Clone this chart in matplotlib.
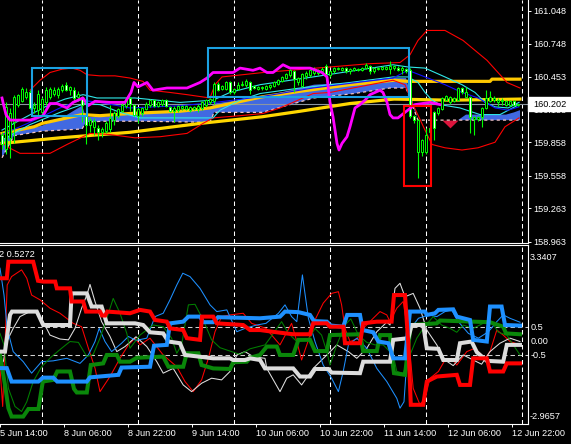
"""
H1 price chart with overlays (MAs, bands, cloud, zones) and a
four-line strength oscillator underneath. Saved to out.png
"""
import numpy as np
import matplotlib
matplotlib.use("Agg")
import matplotlib.pyplot as plt
from matplotlib.patches import Rectangle
from matplotlib.transforms import blended_transform_factory as blend

plt.rcParams['font.family'] = ['Liberation Sans', 'DejaVu Sans']

# ---- H1 bars, index 0..129
OPEN = [159.93, 159.80, 159.90, 160.04, 160.20, 160.23, 160.27, 160.31, 160.17, 160.15,
        160.13, 160.22, 160.27, 160.30, 160.29, 160.33, 160.38, 160.33, 160.33, 160.27,
        160.27, 160.11, 160.02, 160.00, 159.99, 159.95, 159.96, 159.98, 160.06, 160.10,
        160.14, 160.19, 160.26, 160.20, 160.10, 160.12, 160.16, 160.20, 160.24, 160.19,
        160.21, 160.24, 160.18, 160.14, 160.15, 160.17, 160.16, 160.15, 160.16, 160.16,
        160.17, 160.20, 160.22, 160.23, 160.39, 160.34, 160.34, 160.40, 160.31, 160.34,
        160.38, 160.38, 160.40, 160.37, 160.34, 160.35, 160.34, 160.36, 160.37, 160.39,
        160.41, 160.44, 160.47, 160.50, 160.40, 160.37, 160.46, 160.47, 160.49, 160.49,
        160.50, 160.55, 160.47, 160.50, 160.52, 160.51, 160.53, 160.50, 160.51, 160.51,
        160.51, 160.53, 160.55, 160.50, 160.52, 160.52, 160.52, 160.52, 160.53, 160.53,
        160.51, 160.52, 160.51, 160.10, 159.77, 159.77, 159.77, 159.95, 160.13, 160.12,
        160.16, 160.24, 160.22, 160.23, 160.24, 160.35, 160.27, 160.27, 160.07, 160.07,
        160.09, 160.17, 160.23, 160.24, 160.22, 160.23, 160.20, 160.20, 160.23, 160.20]
HIGH = [159.95, 160.22, 160.17, 160.29, 160.30, 160.36, 160.35, 160.33, 160.22, 160.33,
        160.27, 160.36, 160.36, 160.36, 160.36, 160.39, 160.40, 160.37, 160.36, 160.32,
        160.28, 160.13, 160.08, 160.08, 160.02, 160.00, 160.05, 160.20, 160.14, 160.17,
        160.22, 160.26, 160.27, 160.21, 160.18, 160.18, 160.22, 160.25, 160.25, 160.23,
        160.25, 160.25, 160.19, 160.19, 160.20, 160.20, 160.20, 160.19, 160.19, 160.21,
        160.23, 160.25, 160.26, 160.40, 160.40, 160.38, 160.41, 160.41, 160.35, 160.40,
        160.41, 160.43, 160.41, 160.38, 160.37, 160.37, 160.38, 160.39, 160.41, 160.43,
        160.46, 160.49, 160.52, 160.51, 160.45, 160.49, 160.50, 160.52, 160.54, 160.52,
        160.54, 160.57, 160.51, 160.54, 160.54, 160.54, 160.54, 160.53, 160.54, 160.53,
        160.54, 160.58, 160.56, 160.54, 160.54, 160.55, 160.55, 160.59, 160.56, 160.55,
        160.55, 160.53, 160.53, 160.11, 160.07, 159.89, 159.99, 160.00, 160.14, 160.18,
        160.27, 160.29, 160.28, 160.27, 160.36, 160.36, 160.36, 160.28, 160.10, 160.10,
        160.18, 160.33, 160.32, 160.28, 160.26, 160.26, 160.24, 160.24, 160.24, 160.21]
LOW = [159.80, 159.75, 159.72, 159.85, 160.18, 160.22, 160.25, 160.16, 160.12, 160.10,
       160.10, 160.20, 160.25, 160.28, 160.26, 160.31, 160.32, 160.29, 160.23, 160.23,
       160.04, 159.84, 159.95, 159.93, 159.88, 159.91, 159.94, 159.95, 160.02, 160.08,
       160.13, 160.17, 160.14, 160.10, 160.03, 160.10, 160.15, 160.18, 160.18, 160.18,
       160.19, 160.18, 160.13, 160.04, 160.13, 160.15, 160.15, 160.13, 160.15, 160.13,
       160.15, 160.18, 160.21, 160.21, 160.32, 160.33, 160.33, 160.30, 160.30, 160.33,
       160.37, 160.36, 160.30, 160.34, 160.33, 160.33, 160.33, 160.34, 160.36, 160.38,
       160.40, 160.43, 160.45, 160.31, 160.38, 160.36, 160.43, 160.45, 160.47, 160.47,
       160.48, 160.46, 160.45, 160.49, 160.51, 160.50, 160.49, 160.48, 160.50, 160.50,
       160.50, 160.52, 160.48, 160.49, 160.51, 160.51, 160.51, 160.48, 160.51, 160.50,
       160.48, 160.49, 160.08, 160.03, 159.54, 159.74, 159.75, 159.92, 159.88, 160.11,
       160.15, 160.23, 160.21, 160.22, 160.23, 160.30, 160.26, 159.94, 159.93, 160.05,
       160.00, 160.16, 160.22, 160.22, 160.19, 160.20, 160.19, 160.19, 160.19, 160.19]
CLOSE = [159.84, 160.18, 160.12, 160.27, 160.29, 160.34, 160.31, 160.17, 160.20, 160.30,
         160.25, 160.33, 160.34, 160.33, 160.34, 160.37, 160.33, 160.36, 160.26, 160.30,
         160.20, 160.02, 160.06, 160.05, 159.95, 159.98, 160.03, 160.08, 160.12, 160.16,
         160.20, 160.24, 160.21, 160.11, 160.16, 160.17, 160.21, 160.24, 160.19, 160.22,
         160.24, 160.19, 160.14, 160.17, 160.19, 160.19, 160.19, 160.18, 160.18, 160.19,
         160.22, 160.24, 160.25, 160.39, 160.33, 160.37, 160.40, 160.31, 160.34, 160.38,
         160.39, 160.41, 160.33, 160.35, 160.36, 160.36, 160.37, 160.38, 160.40, 160.42,
         160.45, 160.48, 160.51, 160.43, 160.44, 160.48, 160.49, 160.51, 160.52, 160.51,
         160.52, 160.48, 160.50, 160.53, 160.53, 160.53, 160.50, 160.52, 160.53, 160.52,
         160.53, 160.56, 160.50, 160.53, 160.53, 160.54, 160.54, 160.55, 160.55, 160.51,
         160.53, 160.50, 160.10, 160.06, 160.06, 159.88, 159.93, 159.99, 159.99, 160.17,
         160.26, 160.28, 160.27, 160.26, 160.35, 160.31, 160.31, 160.09, 160.09, 160.09,
         160.17, 160.26, 160.27, 160.26, 160.24, 160.24, 160.23, 160.23, 160.20, 160.20]
BID = 160.202

# ---- overlays: (bar, price)
MA_SLOW = [(0, 159.85), (14.5, 159.90), (32, 159.95), (49.5, 160.03), (65, 160.09), (74.5, 160.14),
           (87, 160.21), (98, 160.25), (112, 160.24), (129.5, 160.25)]
MA_FAST = [(0, 159.94), (8, 160.00), (10, 160.03), (20, 160.11), (24.5, 160.10), (32, 160.12),
           (44.5, 160.14), (52, 160.17), (65, 160.27), (74.5, 160.32), (87, 160.38), (98, 160.42),
           (101.5, 160.41), (122, 160.41), (122.5, 160.43), (129.5, 160.43)]
CLOUD_T = [0, 3, 10, 15, 20, 21, 25, 35, 52, 53, 65, 78, 88, 97, 101, 104, 110, 112, 114, 116, 126, 128, 129.5]
CLOUD_A = [159.88, 159.95, 160.01, 160.08, 160.19, 160.09, 160.09, 160.12, 160.16, 160.21, 160.27, 160.38,
           160.40, 160.44, 160.44, 160.06, 160.06, 159.99, 160.06, 160.11, 160.11, 160.13, 160.15]
CLOUD_B = [159.72, 159.92, 159.96, 159.97, 159.98, 160.04, 160.05, 160.05, 160.04, 160.13, 160.13, 160.26,
           160.30, 160.35, 160.35, 160.06, 160.06, 160.06, 160.06, 160.06, 160.06, 160.06, 160.06]
BB_UP = [(7, 160.33), (9.5, 160.42), (12, 160.49), (15, 160.52), (17.5, 160.53), (19.5, 160.51),
         (21.25, 160.47), (24.5, 160.46), (28.25, 160.46), (32, 160.44), (35.25, 160.41), (37, 160.33),
         (42, 160.31), (46.25, 160.29), (52, 160.26), (53.25, 160.38), (55, 160.45), (65.25, 160.49),
         (72, 160.51), (82, 160.54), (92, 160.57), (99.5, 160.58), (102, 160.65), (104, 160.78),
         (106.25, 160.87), (110.75, 160.87), (115.25, 160.78), (121.25, 160.60), (126.25, 160.40),
         (129.5, 160.35)]
BB_LO = [(0, 159.86), (1.25, 159.82), (4.5, 159.76), (12, 159.76), (16.25, 159.84), (20.25, 159.91),
         (22, 159.94), (27, 159.93), (33.25, 159.90), (39.5, 159.91), (46.25, 159.94), (50.25, 160.03),
         (52.75, 160.08), (59.5, 160.10), (65.25, 160.12), (69.5, 160.17), (72.75, 160.22), (77.75, 160.30),
         (82, 160.31), (97.75, 160.42), (100.75, 160.38), (102.5, 160.22), (105.75, 159.97), (107.5, 159.84),
         (110.75, 159.81), (115, 159.79), (119, 159.81), (123.25, 159.86), (125.75, 160.00), (129.25, 160.08)]
CYAN_FAST = [(0, 159.97), (4.5, 160.06), (10.75, 160.18), (15.75, 160.25), (20.25, 160.29), (23.75, 160.26),
             (33.25, 160.26), (44.5, 160.22), (52.75, 160.24), (57, 160.31), (64.5, 160.38), (77.75, 160.45),
             (97.75, 160.56), (101.5, 160.54), (105.75, 160.53), (110.75, 160.45), (115, 160.38),
             (118.25, 160.31), (120.75, 160.22), (123.25, 160.18), (126.5, 160.17), (129.25, 160.22)]
CYAN_SLOW = [(0, 159.88), (7, 160.02), (14.5, 160.13), (20.75, 160.21), (24.5, 160.20), (29.5, 160.13),
             (34.5, 160.08), (52.75, 160.08), (54.5, 160.15), (59.5, 160.24), (64.5, 160.30), (74.5, 160.35),
             (87, 160.40), (97.75, 160.45), (101.5, 160.45), (104, 160.40), (105.75, 160.31), (107.5, 160.24),
             (109.5, 160.20), (114.5, 160.17), (119.5, 160.11), (124.5, 160.11), (129.25, 160.20)]
BLUE_MA = [(0, 159.93), (7, 160.04), (14.5, 160.17), (19.5, 160.24), (24.5, 160.22), (32, 160.17),
           (44.5, 160.19), (53.25, 160.22), (64.5, 160.27), (77.75, 160.35), (97.75, 160.44), (101.5, 160.51),
           (106.5, 160.44), (110.75, 160.38), (115, 160.31), (119, 160.26), (123.25, 160.17),
           (126.5, 160.15), (129.25, 160.18)]
MAGENTA = [(0, 160.26), (0.25, 160.22), (1, 160.11), (2, 160.06), (7, 160.06), (10.25, 160.10), (12, 160.21),
           (13.75, 160.21), (16.25, 160.17), (17.75, 160.22), (20.25, 160.26), (21.5, 160.19), (23.25, 160.23),
           (27, 160.22), (30.75, 160.22), (32.25, 160.31), (33, 160.40), (34, 160.36), (36.25, 160.40),
           (37.75, 160.33), (41.25, 160.35), (46.25, 160.35), (49.5, 160.40), (51.25, 160.44), (52.75, 160.49),
           (57.75, 160.49), (59.5, 160.53), (62.75, 160.51), (64.5, 160.53), (66.25, 160.49), (67.75, 160.49),
           (70.25, 160.56), (72, 160.53), (77, 160.53), (80, 160.49), (81.25, 160.45), (82, 160.22),
           (82.75, 160.09), (83.75, 159.85), (84.25, 159.79), (85, 159.85), (86.25, 159.91), (87, 160.00),
           (88.25, 160.17), (89.5, 160.20), (90.75, 160.24), (92, 160.29), (93.25, 160.31), (94.5, 160.33),
           (95.25, 160.31), (96.25, 160.22), (97, 160.11), (97.75, 160.08), (99, 160.08), (100.75, 160.13),
           (103.25, 160.20), (107, 160.22), (109.5, 160.20)]
# zones: (bar from, bar to, price low, price high)
BLUE_ZONES = [(7.4, 21.3, 160.097, 160.534), (51.4, 101.75, 160.272, 160.714)]
RED_ZONES = [(100.6, 107.3, 159.468, 160.188)]

PRICE_TICKS = [161.048, 160.748, 160.453, 160.153, 159.858, 159.558, 159.263, 158.963]
DAY_GRID = [10, 34, 58, 82, 106, 130]
TIME_TICKS = [-0.5, 15.5, 31.5, 47.5, 63.5, 79.5, 95.5, 111.5, 127.5]
TIME_LABELS = ["5 Jun 14:00", "8 Jun 06:00", "8 Jun 22:00", "9 Jun 14:00", "10 Jun 06:00",
               "10 Jun 22:00", "11 Jun 14:00", "12 Jun 06:00", "12 Jun 22:00"]

# ---- oscillator: (bar, value)
RED_THICK = [(-0.5, 2.24), (1.2, 2.24), (1.6, 2.83), (7.8, 2.83), (9, 2.15), (10.3, 2.12), (13.3, 2.12),
             (13.7, 1.88), (17, 1.88), (17.4, 1.41), (20.3, 1.41), (21, 1.05), (24.5, 1.05), (25, 0.91),
             (25.8, 0.91), (26.3, 1.05), (32, 0.99), (34.5, 1.11), (37, 1.05), (38.25, 0.75), (41.2, 0.69),
             (42, 0.45), (45.3, 0.39), (46.2, 0.10), (49.5, 0.04), (50, 0.87), (52.8, 0.87), (53.7, 0.63),
             (60.3, 0.57), (62, 0.39), (64.5, 0.39), (68.7, 0.31), (72.8, 0.24), (77, 0.24), (77.8, 0.63),
             (81.2, 0.63), (82, 0.51), (85.3, 0.51), (85.75, -0.08), (89.5, -0.08), (90.3, 0.63), (93.7, 0.69),
             (97.4, 0.69), (98, 1.64), (100.75, 1.64), (101.6, -0.14), (102.2, -2.28), (105.3, -2.28),
             (106.2, -1.45), (108.7, -1.27), (113.7, -1.21), (114.5, -1.57), (117, -1.57), (117.8, -0.62),
             (121.2, -0.62), (122, -1.09), (125.3, -1.09), (126.2, -0.80), (129.5, -0.80)]
WHITE_THICK = [(-0.5, -0.38), (0.75, -0.38), (2, 0.93), (2.5, 1.05), (8.7, 1.05), (10.3, 0.57), (17, 0.57),
               (17.4, 1.70), (21.2, 1.70), (22.4, 1.23), (24.9, 1.23), (26.2, 0.63), (33.25, 0.63),
               (35.3, 0.57), (37, 0.31), (40.3, 0.27), (41.6, -0.02), (44.5, -0.08), (45.75, -0.50),
               (52.8, -0.62), (57, -0.62), (57.8, -0.68), (60.75, -0.68), (62, -0.62), (64.5, -0.68),
               (65.75, -0.98), (72.8, -0.98), (74.5, -1.27), (77, -1.27), (78.25, -1.0), (81.6, -1.0),
               (82.4, -1.13), (89.5, -1.15), (90.3, -0.74), (97, -0.74), (97.8, 0.04), (101.6, 0.10),
               (102.4, 0.57), (105.3, 0.57), (106.2, -0.26), (109.1, -0.28), (110.3, -0.68), (113.7, -0.68),
               (114.5, -0.08), (117.4, -0.02), (118.7, -0.40), (121.2, -0.71), (125.3, -0.74), (126.2, -0.14),
               (129.5, -0.14)]
BLUE_THICK = [(-0.5, -0.97), (1.2, -0.97), (2.4, -1.45), (9.1, -1.45), (10.2, -1.31), (12.8, -1.31),
              (13.8, -1.45), (21.2, -1.45), (22, -1.30), (29.1, -1.21), (29.9, -0.95), (37, -0.92), (38, -0.17),
              (41.2, -0.14), (42, 0.63), (45.3, 0.69), (46.6, 0.87), (49.5, 0.87), (50.3, 0.67), (52.8, 0.67),
              (54, 0.85), (64.5, 0.81), (69.5, 0.87), (70.75, 1.05), (74.1, 1.03), (77, 0.93), (78, 0.71),
              (81.2, 0.69), (82.2, 0.55), (85.3, 0.51), (86.3, 0.93), (89.5, 0.93), (90.2, 0.39), (92.8, 0.31),
              (94.1, -0.02), (96.6, -0.08), (97.8, -0.62), (100.75, -0.62), (102, 1.05), (105.75, 1.05),
              (106.2, 0.93), (108.25, 0.99), (109.1, 1.11), (112.8, 1.13), (113.7, 0.87), (117, 0.75),
              (117.8, 0.04), (121.2, -0.02), (122, 1.23), (124.9, 1.23), (125.75, 0.57), (129.5, 0.55)]
GREEN_THICK = [(-0.5, -0.5), (0.75, -1.57), (1.6, -2.4), (2.4, -2.7), (5.3, -2.7), (6.6, -2.43), (9.1, -2.43),
               (10.2, -1.45), (12.8, -1.39), (13.8, -1.09), (17, -1.09), (18, -1.71), (18.7, -1.84),
               (21.2, -1.84), (22.2, -0.86), (25.3, -0.80), (26.2, -0.50), (28.7, -0.50), (29.5, -0.74),
               (32, -0.74), (33.7, -0.60), (40.3, -0.56), (41.6, -0.92), (45.3, -0.92), (46.2, -0.44),
               (49.1, -0.44), (49.9, -0.86), (52.8, -0.98), (57, -1.0), (57.8, -0.76), (61.2, -0.74),
               (62, -0.60), (64.5, -0.5), (66.2, -0.2), (68.7, -0.2), (69.5, -0.5), (72.8, -0.5), (74.1, 0.04),
               (77, 0.04), (78.25, -0.36), (81.2, -0.36), (82, 0.21), (89.5, 0.24), (90.3, -0.36),
               (93.7, -0.36), (94.5, 0.21), (97, 0.21), (97.4, -0.5), (98, -1.15), (100.75, -1.21),
               (102.2, 0.57), (108.7, 0.63), (109.5, 0.73), (122, 0.67), (125.3, 0.51), (126, 0.27),
               (129.5, 0.24)]
RED_THIN = [(-0.5, -0.97), (0.17, -2.34), (0.75, -0.14), (1.3, 2.0), (2.4, 2.30), (4.9, 2.54), (6.2, 2.24),
            (7.4, 1.64), (9.5, 1.47), (12, 1.17), (14.5, 0.99), (17.8, 0.63), (19.9, 0.51), (21.6, -0.26),
            (23.25, -0.97), (24.5, -1.81), (27, -1.27), (29.5, -0.62), (31.6, -0.14), (33.25, 0.10),
            (34.5, -0.14), (37, 0.10), (40.3, -0.50), (43.7, -0.92), (45.75, -1.45), (47.8, -1.81),
            (49.9, -1.39), (51.6, -0.62), (53.25, 0.33), (54.9, 0.87), (57, 0.93), (60.3, 0.99), (62.4, 0.63),
            (66, 0.45), (69.5, -0.14), (71.2, 0.31), (72.4, 0.63), (73.7, -0.02), (74.9, -0.68), (76.2, -0.14),
            (78.25, 0.75), (80.3, 1.35), (82.4, 1.70), (84.1, 1.76), (84.9, 1.29), (85.75, 0.45), (87, -0.02),
            (88.7, 0.07), (90.3, 0.45), (92.8, 0.81), (94.5, 1.05), (96.2, 0.93), (97, 0.69), (98.7, 1.17),
            (100.3, 1.41), (101.6, 0.21), (102.8, -1.69), (104.5, -2.28), (105.75, -2.05), (107, -1.33),
            (109.1, -1.09), (110.75, -0.68), (112.4, -0.62), (113.7, -0.86), (116.2, -0.38), (118.25, -0.26),
            (120.75, -0.62), (122, -0.38), (123.7, 0.39), (125.3, 0.21), (127, -0.02), (129.5, -0.14)]
WHITE_THIN = [(0.33, -0.74), (1.2, -0.02), (2.8, 0.45), (4.5, 0.87), (7, 1.05), (8.7, 1.03), (10.3, 0.69),
              (12, 0.21), (14.5, 0.07), (16.6, 0.04), (18.25, 0.45), (19.9, 1.17), (21.2, 1.64), (22, 2.02),
              (23.25, 1.41), (24.9, 0.69), (27, 0.16), (28.7, -0.38), (30.75, -0.20), (33.5, 0.15),
              (36.2, -0.20), (38.7, -0.74), (40.3, -1.15), (42.8, -0.98), (45.3, -1.57), (47.4, -1.81),
              (49.9, -1.51), (52.4, -1.33), (54.9, -1.39), (57, -1.09), (58.7, -0.50), (60.75, -0.38),
              (62.8, -0.56), (65.75, -0.62), (66.2, -0.98), (69.5, -1.81), (71.2, -1.33), (72.8, -1.21),
              (74.9, -1.57), (77.8, -0.98), (81.2, -0.50), (83.7, -0.14), (86.6, -0.38), (88.7, -0.62),
              (91.2, -0.26), (93.7, 0.33), (96.2, 0.67), (97, 0.57), (98.25, 1.88), (99.5, 2.06),
              (100.75, 1.58), (102.8, 1.70), (104.5, 1.17), (106.2, 0.39), (108.7, -0.14), (110.75, -0.68),
              (112.8, -0.88), (115.3, -0.50), (117.8, -0.68), (119.9, -0.83), (122, -0.38), (124.5, -0.08),
              (127, 0.10), (129.5, -0.02)]
BLUE_THIN = [(-0.5, 2.6), (0.5, 1.64), (1.3, 0.45), (2.8, -0.38), (5.3, -0.74), (7.4, -1.15), (9.9, -0.74),
             (12.8, -0.71), (16.2, -0.62), (19.5, -0.80), (21.6, -0.50), (23.25, -0.02), (24.3, 0.45),
             (25.75, -0.02), (27.4, -0.38), (29.9, -0.08), (31.6, 0.16), (33.5, 0.02), (36.2, 0.10),
             (38.25, 0.87), (40.3, 0.99), (42, 1.47), (43.7, 2.0), (45.2, 2.42), (47, 2.30), (49.5, 1.88),
             (52, 1.29), (53.7, 1.05), (56.2, 1.11), (58.7, 0.33), (60.75, 0.45), (63.7, 0.57), (66, 0.63),
             (69.1, 0.99), (70.75, 1.29), (72.4, 0.87), (73.7, 0.69), (75.1, 2.36), (76.6, 0.81),
             (78.25, -0.02), (80.3, -0.86), (82.4, -1.33), (84.1, -1.81), (85.3, -1.09), (86.6, -0.14),
             (88.7, 0.10), (91.2, -0.26), (93.7, -0.98), (96.2, -1.45), (98.7, -2.05), (99.5, -2.40),
             (100.5, -2.17), (101.3, -0.50), (102.2, 0.45), (104.1, 0.81), (106.6, 0.93), (108.7, 0.87),
             (110.75, 1.05), (112.4, 1.11), (114.1, 0.69), (116.6, 0.27), (119.1, 0.10), (121.6, 0.33),
             (123.7, 0.69), (125.3, 0.93), (127, 0.81), (129.5, 0.67)]
GREEN_THIN = [(-0.5, 0.27), (0.5, -0.14), (1.6, -1.69), (3.25, -2.34), (4.9, -2.52), (6.2, -2.17),
              (7.8, -1.45), (9.9, -0.92), (12.4, -0.56), (14.9, -0.26), (17, -0.02), (19.1, -0.05),
              (21.2, -0.56), (22.8, -0.48), (24.5, 0.10), (26.2, 0.81), (27.8, 1.52), (29.5, 0.99),
              (31.2, 0.27), (32, -0.26), (34.5, 0.21), (37.8, 0.57), (40.3, 0.51), (42.4, 0.10), (43.7, -0.44),
              (44.9, -0.14), (46.6, 1.29), (48.25, 1.31), (50.3, 0.75), (52.4, 0.04), (54.5, -0.24),
              (57.4, -0.38), (59.5, -0.48), (62, -0.28), (65.75, -0.14), (67, 0.10), (69.9, 0.69), (71.6, 0.27),
              (73.7, -0.02), (76.6, 0.04), (78.25, 0.45), (79.9, 0.21), (81.2, -0.38), (82, -0.86),
              (83.7, -0.14), (85.75, 0.57), (87.2, 0.79), (89.1, 0.21), (91.2, -0.05), (93.25, -0.14),
              (95.3, -0.14), (97.8, -0.50), (98.7, -1.09), (100.3, -1.15), (102, -0.50), (103.7, 0.10),
              (105.3, 0.45), (107.8, 0.87), (109.9, 0.57), (112, 0.45), (113.7, 0.31), (115.3, 0.57),
              (117.8, 0.45), (120.3, 0.63), (122.4, 0.69), (124.1, 0.31), (126.2, 0.21), (129.5, -0.50)]
OSC_LEVELS = [0.5, -0.5]
OSC_MAX, OSC_MIN = 3.3407, -2.9657
OSC_LABEL = "2 0.5272"

FS = 6.6
DASH = (0, (4.3, 2.9))
W = 571.0; H = 444.0

fig = plt.figure(figsize=(W / 100, H / 100), dpi=100, facecolor="black")
ax = fig.add_axes([0, (H - 243) / H, 528 / W, 243 / H], facecolor="black")
ax2 = fig.add_axes([0, (H - 424) / H, 528 / W, (424 - 245.5) / H], facecolor="black")

for a in (ax, ax2):
    a.set_xlim(-0.5, 131.5)
    for s in ("left", "top"):
        a.spines[s].set_visible(False)
    for s in ("right", "bottom"):
        a.spines[s].set_color("white"); a.spines[s].set_linewidth(0.8)
    for g in DAY_GRID:
        a.axvline(g, color="white", lw=0.75, ls=DASH, zorder=1)
ax2.spines["top"].set_visible(True)
ax2.spines["top"].set_color("white"); ax2.spines["top"].set_linewidth(0.8)

# ---- price panel
ax.set_ylim(158.95, 161.145)
ct = np.array(CLOUD_T); ca = np.array(CLOUD_A); cb = np.array(CLOUD_B)
ax.fill_between(ct, ca, cb, where=ca >= cb, interpolate=True, color="#4169e1", lw=0, zorder=1.5)
ax.fill_between(ct, ca, cb, where=ca < cb, interpolate=True, color="#dc143c", lw=0, zorder=1.5)
ax.plot(ct, cb, color="#f3c4c4", lw=0.9, ls=(0, (2.5, 2.5)), zorder=1.6)
ax.axhline(BID, color="#8c96a0", lw=0.8, zorder=1.7)

def line(a, pts, **kw):
    t, v = zip(*pts)
    a.plot(t, v, **kw)

line(ax, MA_SLOW, color="#ffd700", lw=2.3, zorder=2)
line(ax, MA_FAST, color="#ffc800", lw=2.3, zorder=2)
line(ax, BB_UP, color="#ff0000", lw=0.8, zorder=2.2)
line(ax, BB_LO, color="#ff0000", lw=0.8, zorder=2.2)
line(ax, CYAN_SLOW, color="#30e8e8", lw=0.8, zorder=2.2)
line(ax, CYAN_FAST, color="#30e8e8", lw=0.8, zorder=2.2)
line(ax, BLUE_MA, color="#1010ff", lw=0.8, zorder=2.2)

x = np.arange(len(CLOSE))
o, h, l, c = map(np.array, (OPEN, HIGH, LOW, CLOSE))
ax.vlines(x, l, h, color="#00ff00", lw=0.8, zorder=3)
bull = c >= o
ax.bar(x, np.maximum(np.abs(c - o), 0.004), bottom=np.minimum(o, c), width=0.5,
       color=np.where(bull, "black", "white"), edgecolor="#00ff00", linewidth=0.7, zorder=3.2)

line(ax, MAGENTA, color="#ff00ff", lw=2.0, zorder=3.5)
for t0, t1, p0, p1 in BLUE_ZONES:
    ax.add_patch(Rectangle((t0, p0), t1 - t0, p1 - p0, fill=False, ec="#1ba1e2", lw=1.5, zorder=4))
for t0, t1, p0, p1 in RED_ZONES:
    ax.add_patch(Rectangle((t0, p0), t1 - t0, p1 - p0, fill=False, ec="#ff0000", lw=1.5, zorder=4))

ax.set_xticks([])
ax.yaxis.tick_right()
ax.set_yticks(PRICE_TICKS)
ax.set_yticklabels([f"{p:.3f}" for p in PRICE_TICKS])
ax.tick_params(axis="y", colors="white", labelsize=FS, length=2.2, width=0.7, pad=1.5)

tr = blend(ax.transAxes, ax.transData)
ax.add_patch(Rectangle((1.0, BID - 0.063), 43 / 528, 0.126, transform=tr, fc="white", ec="white",
                       clip_on=False, zorder=10))
ax.annotate(f"{BID:.3f}", (1.0, BID), xycoords=tr, xytext=(3.6, 0), textcoords="offset points",
            ha="left", va="center", color="black", fontsize=FS, zorder=11, annotation_clip=False)

# ---- oscillator panel
ax2.set_ylim(-2.9657, 3.41)
for lv in OSC_LEVELS:
    ax2.axhline(lv, color="#d0d0d0", lw=0.75, ls=DASH, zorder=1)
for pts, col in ((RED_THIN, "#ff0000"), (WHITE_THIN, "#e0e0e0"), (BLUE_THIN, "#1e90ff"), (GREEN_THIN, "#008000")):
    line(ax2, pts, color=col, lw=0.75, zorder=2)
for pts, col in ((GREEN_THICK, "#0a870a"), (WHITE_THICK, "#dcdcdc"), (BLUE_THICK, "#1e90ff"), (RED_THICK, "#ff0000")):
    line(ax2, pts, color=col, lw=2.9, zorder=3, solid_joinstyle="miter")

ax2.yaxis.tick_right()
ax2.set_yticks([0.5, 0.0, -0.5])
ax2.set_yticklabels(["0.5", "0.00", "-0.5"])
ax2.tick_params(axis="y", colors="white", labelsize=FS, length=0, pad=2)
tr2 = blend(ax2.transAxes, ax2.transData)
ax2.annotate(f"{OSC_MAX:.4f}", (1.0, OSC_MAX), xycoords=tr2, xytext=(1.5, -4), textcoords="offset points",
             ha="left", va="top", color="white", fontsize=FS, annotation_clip=False)
ax2.annotate(f"{OSC_MIN:.4f}", (1.0, OSC_MIN), xycoords=tr2, xytext=(1.5, 2), textcoords="offset points",
             ha="left", va="bottom", color="white", fontsize=FS, annotation_clip=False)
ax2.annotate(OSC_LABEL, (0, 1), xycoords="axes fraction", xytext=(-1, -3), textcoords="offset points",
             ha="left", va="top", color="white", fontsize=FS)

ax2.set_xticks(TIME_TICKS)
ax2.set_xticklabels(TIME_LABELS, ha="left")
ax2.tick_params(axis="x", colors="white", labelsize=FS, length=2.2, width=0.7, pad=1.5)

fig.savefig("out.png", dpi=100, facecolor="black")
